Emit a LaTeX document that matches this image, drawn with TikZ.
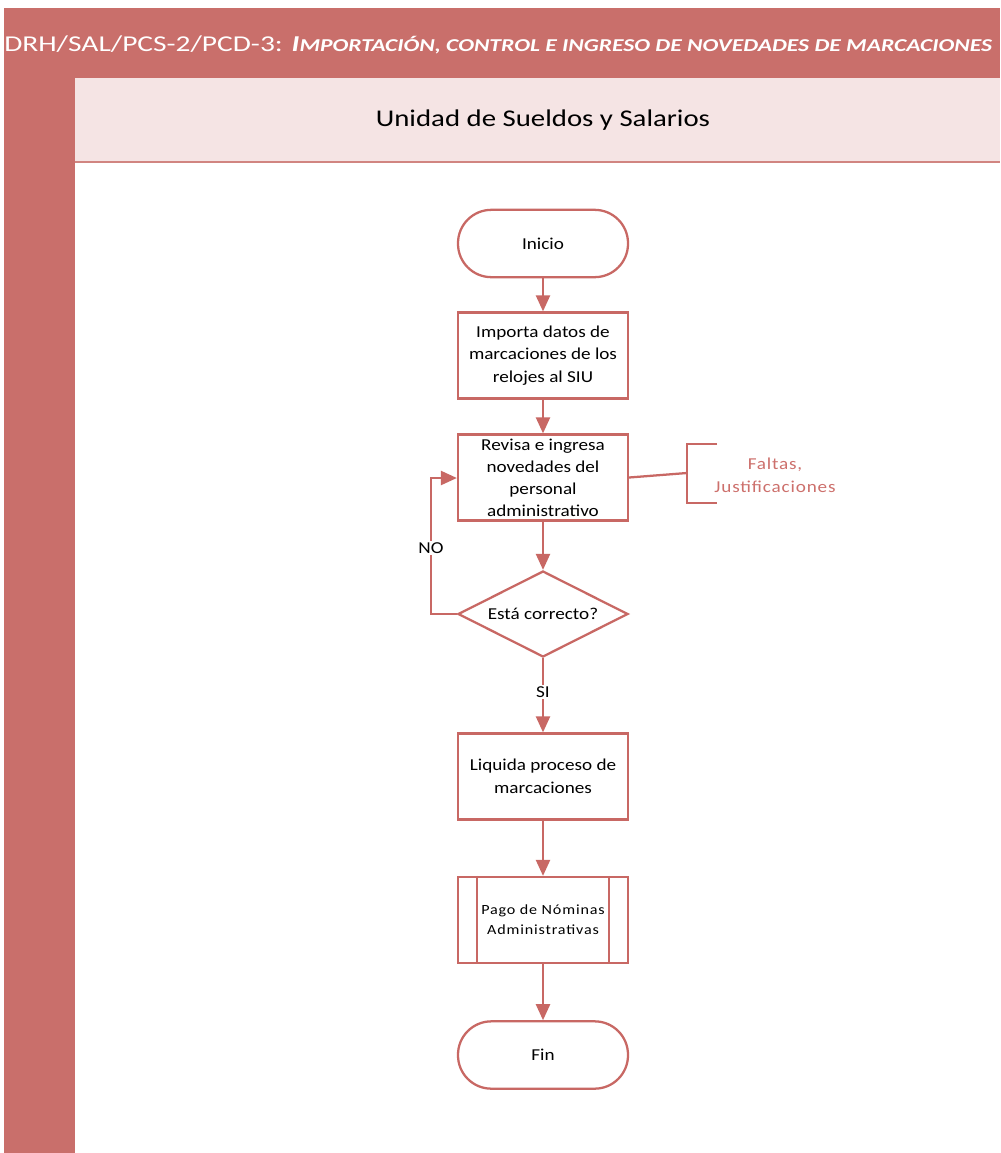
\documentclass[tikz,border=0pt]{standalone}
\usepackage{fontspec}
\setmainfont{Carlito}
\newfontfamily\titlefont[FakeStretch=1.3]{Carlito}
\newfontfamily\lanefont[FakeStretch=1.2]{Carlito}
\newfontfamily\boxfont[FakeStretch=1.15]{Carlito}
\usetikzlibrary{shapes.geometric,arrows.meta}
\definecolor{bandred}{RGB}{201,111,107}
\definecolor{headpink}{RGB}{245,228,228}
\definecolor{flowred}{RGB}{200,104,100}
\definecolor{notered}{RGB}{205,112,108}
\begin{document}
\begin{tikzpicture}[x=0.75pt,y=-0.75pt,
  flowline/.style={draw=flowred,line width=1.7pt},
  arrowline/.style={flowline,-{Triangle[width=10.5pt,length=12pt]}},
  nodetext/.style={font=\boxfont\fontsize{12.5}{17}\selectfont,align=center,text=black},
  terminal/.style={flowline,nodetext,fill=white,rectangle,rounded corners=25pt,minimum width=127.5pt,minimum height=50.5pt,inner sep=0pt},
  process/.style={flowline,nodetext,fill=white,rectangle,minimum width=127.5pt,minimum height=64.5pt,inner sep=0pt},
  decision/.style={flowline,nodetext,fill=white,diamond,aspect=2,minimum width=127.5pt,minimum height=64.5pt,inner sep=0pt},
  branch/.style={nodetext,fill=white,inner sep=1.5pt}]
\useasboundingbox (0,0) rectangle (1000,1153);
% background, title band and lane header
\fill[white] (0,0) rectangle (1000,1153);
\fill[bandred] (4,8) rectangle (1000,1153);
\fill[white] (75,162) rectangle (1000,1153);
\fill[headpink] (75,78) rectangle (1000,161);
\draw[draw=bandred!85!white,line width=1.2pt] (75,162) -- (1000,162);
\node[anchor=west,text=white,inner sep=0pt,font=\titlefont\fontsize{17}{20}\selectfont] (title) at (4,45)
  {DRH/SAL/PCS-2/PCD-3: \textbf{\itshape I{\fontsize{13.6}{16}\selectfont MPORTACIÓN, CONTROL E INGRESO DE NOVEDADES DE MARCACIONES}}};
\node[font=\lanefont\fontsize{18}{22}\selectfont] (lane) at (543,120) {Unidad de Sueldos y Salarios};
% flow nodes
\node[terminal] (inicio) at (543,243.5) {Inicio};
\node[process] (importa) at (543,355.5) {Importa datos de\\marcaciones de los\\relojes al SIU};
\node[process,font=\boxfont\fontsize{12.5}{16.5}\selectfont] (revisa) at (543,477.5) {Revisa e ingresa\\novedades del\\personal\\administrativo};
\node[decision] (check) at (543,614) {Está correcto?};
\node[process] (liquida) at (543,776.5) {Liquida proceso de\\marcaciones};
\node[process,font=\boxfont\fontsize{10.5}{15}\selectfont] (pago) at (543,920) {\addfontfeature{LetterSpace=6}Pago de Nóminas\\\addfontfeature{LetterSpace=6}Administrativas};
\draw[flowline] ([xshift=15pt]pago.north west) -- ([xshift=15pt]pago.south west);
\draw[flowline] ([xshift=-15pt]pago.north east) -- ([xshift=-15pt]pago.south east);
\node[terminal] (fin) at (543,1055) {Fin};
% annotation
\coordinate (brtop) at (717,444);
\coordinate (brbot) at (717,503);
\coordinate (brmid) at (687,473);
\draw[flowline] (brtop) -- (687,444) -- (687,503) -- (brbot);
\draw[flowline] (revisa.east) -- (brmid);
\node[nodetext,text=notered] (note) at (775,475) {\addfontfeature{LetterSpace=5}Faltas,\\\addfontfeature{LetterSpace=5}Justificaciones};
% connectors
\draw[arrowline] (inicio) -- (importa);
\draw[arrowline] (importa) -- (revisa);
\draw[arrowline] (revisa) -- (check);
\draw[arrowline] (check.west) -- (431,614) -- (431,478) -- (revisa.west |- 0,478);
\node[branch] (no) at (431,548) {NO};
\draw[arrowline] (check) -- (liquida);
\node[branch] (si) at (543,692) {SI};
\draw[arrowline] (liquida) -- (pago);
\draw[arrowline] (pago) -- (fin);
\end{tikzpicture}
\end{document}
